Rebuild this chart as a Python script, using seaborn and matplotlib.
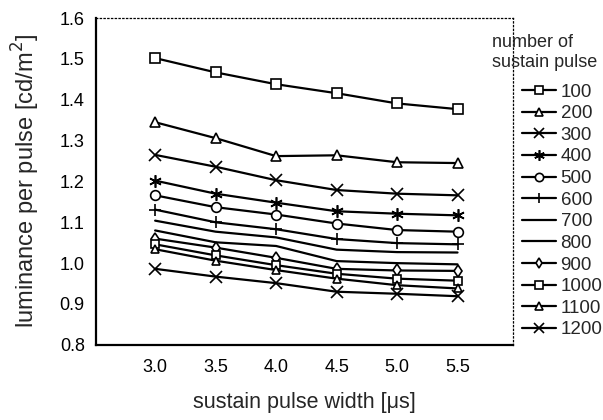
import numpy as np
import pandas as pd
import matplotlib
matplotlib.use("Agg")
import matplotlib.pyplot as plt
import seaborn as sns

widths = [3.0, 3.5, 4.0, 4.5, 5.0, 5.5]
pulses = ["100", "200", "300", "400", "500", "600", "700", "800", "900", "1000", "1100", "1200"]
lum_100 = [1.502, 1.467, 1.438, 1.416, 1.391, 1.377]
lum_200 = [1.345, 1.306, 1.262, 1.264, 1.247, 1.245]
lum_300 = [1.265, 1.236, 1.203, 1.179, 1.170, 1.166]
lum_400 = [1.202, 1.170, 1.148, 1.127, 1.121, 1.117]
lum_500 = [1.166, 1.137, 1.119, 1.097, 1.081, 1.077]
lum_600 = [1.131, 1.100, 1.083, 1.059, 1.049, 1.046]
lum_700 = [1.104, 1.077, 1.063, 1.033, 1.027, 1.026]
lum_800 = [1.080, 1.051, 1.042, 1.005, 1.000, 0.997]
lum_900 = [1.060, 1.038, 1.013, 0.986, 0.982, 0.981]
lum_1000 = [1.046, 1.019, 0.995, 0.974, 0.962, 0.957]
lum_1100 = [1.034, 1.006, 0.983, 0.962, 0.946, 0.938]
lum_1200 = [0.986, 0.967, 0.951, 0.930, 0.925, 0.919]
series = [lum_100, lum_200, lum_300, lum_400, lum_500, lum_600,
          lum_700, lum_800, lum_900, lum_1000, lum_1100, lum_1200]

rows = []
for p, vals in zip(pulses, series):
    for w, v in zip(widths, vals):
        rows.append({"width": w, "lum": v, "pulse": p})
df = pd.DataFrame(rows)

sns.set_style("white")
plt.rcParams['font.family'] = ['Liberation Sans', 'DejaVu Sans']

marker_map = {"100": "s", "200": "^", "300": "x", "400": (6, 2, 0), "500": "o",
              "600": "+", "700": "", "800": "", "900": "d", "1000": "s",
              "1100": "^", "1200": "x"}
msize = {"100": 7, "200": 7, "300": 8, "400": 9, "500": 7, "600": 9,
         "700": 1, "800": 1, "900": 6, "1000": 6, "1100": 6, "1200": 8}

fig = plt.figure(figsize=(6.03, 4.2), dpi=100)
ax = fig.add_axes([0.159, 0.179, 0.692, 0.778])

for p in pulses:
    sub = df[df["pulse"] == p]
    m = marker_map[p]
    sns.lineplot(data=sub, x="width", y="lum", ax=ax, color="black",
                 marker=m if m else None, markersize=msize[p],
                 markerfacecolor="white", markeredgecolor="black",
                 markeredgewidth=1.2, linewidth=1.6, label=p)

ax.set_xlim(2.51, 5.96)
ax.set_ylim(0.8, 1.6)
ax.set_xticks(widths)
ax.set_xticklabels([f"{w:.1f}" for w in widths])
ax.set_yticks(np.arange(0.8, 1.61, 0.1))
ax.set_yticklabels([f"{v:.1f}" for v in np.arange(0.8, 1.61, 0.1)])
ax.tick_params(direction="in", length=4, width=1, labelsize=13, colors="black")
ax.tick_params(axis="x", pad=10)
ax.tick_params(axis="y", pad=8)
ax.set_xlabel("sustain pulse width [μs]", fontsize=15.5, labelpad=12)
ax.set_ylabel("luminance per pulse [cd/m$^2$]", fontsize=17, labelpad=13)

for s in ["left", "bottom"]:
    ax.spines[s].set_color("black")
    ax.spines[s].set_linewidth(1.6)
for s in ["top", "right"]:
    ax.spines[s].set_color("black")
    ax.spines[s].set_linewidth(0.9)
    ax.spines[s].set_linestyle((0, (1, 2)))

handles, labels = ax.get_legend_handles_labels()
leg = ax.legend(handles, labels, loc="upper left", bbox_to_anchor=(0.99, 0.84),
                frameon=False, fontsize=13.5, handlelength=1.8, handletextpad=0.25,
                labelspacing=0.24, borderaxespad=0.3, markerscale=0.85)
fig.text(0.816, 0.918, "number of\nsustain pulse", fontsize=13, ha="left", va="top",
         linespacing=1.2)

fig.savefig("out.png", dpi=100)
